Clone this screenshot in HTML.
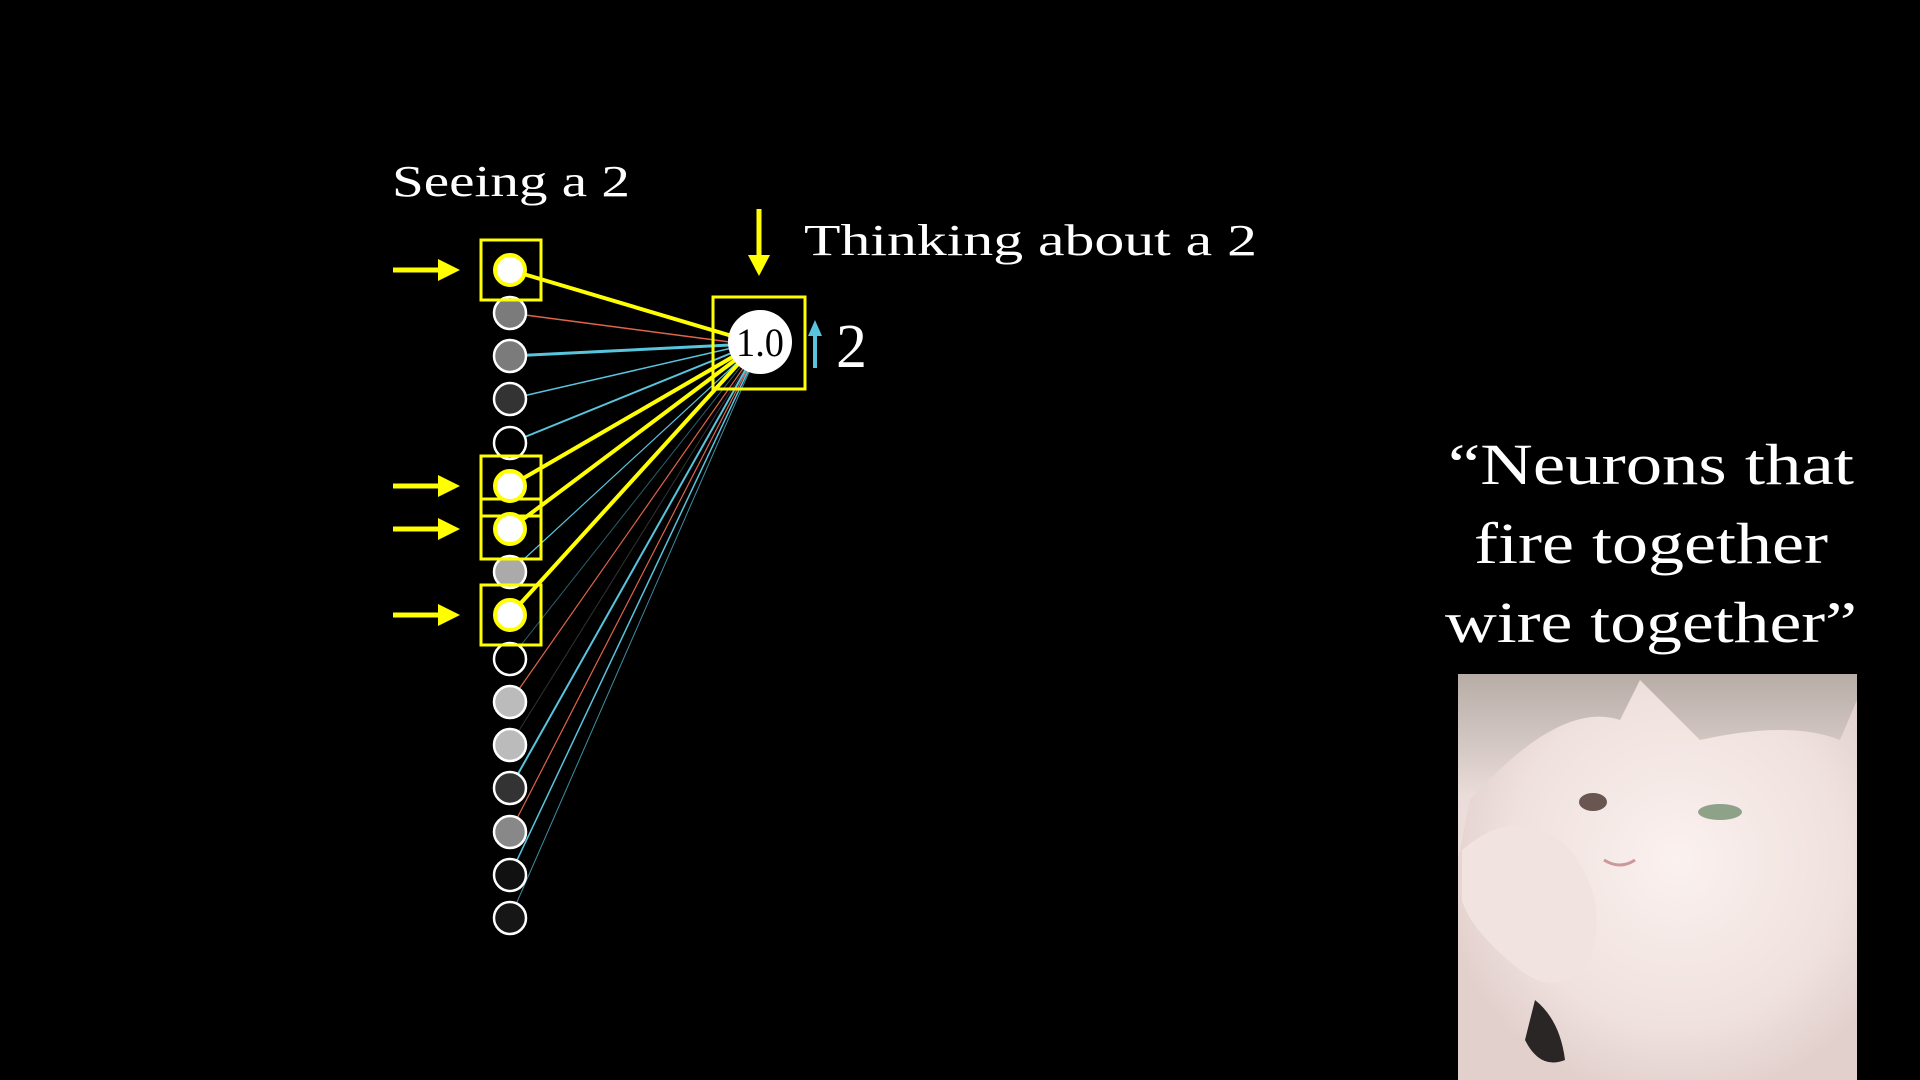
<!DOCTYPE html>
<html><head><meta charset="utf-8"><style>
html,body{margin:0;padding:0;background:#000;width:1920px;height:1080px;overflow:hidden}
svg{display:block}
text{font-family:"Liberation Serif",serif;fill:#fff}
</style></head><body>
<svg width="1920" height="1080" viewBox="0 0 1920 1080" xmlns="http://www.w3.org/2000/svg">
<defs>
<linearGradient id="bg" x1="0" y1="0" x2="0" y2="1"><stop offset="0" stop-color="#b7aca6"/><stop offset="0.3" stop-color="#e9dcd9"/><stop offset="1" stop-color="#f4ecea"/></linearGradient>
<radialGradient id="face" cx="0.55" cy="0.45" r="0.6"><stop offset="0" stop-color="#fbf1ef"/><stop offset="0.7" stop-color="#efe1de"/><stop offset="1" stop-color="#e2d0cc"/></radialGradient>
</defs>
<rect width="1920" height="1080" fill="#000"/>
<text x="392" y="196" font-size="44" textLength="238" lengthAdjust="spacingAndGlyphs">Seeing a 2</text>
<text x="804" y="255" font-size="44" textLength="453" lengthAdjust="spacingAndGlyphs">Thinking about a 2</text>
<g fill="none">
<line x1="510" y1="313" x2="730" y2="342" stroke="#e0644a" stroke-width="1.5"/>
<line x1="510" y1="356" x2="730" y2="345" stroke="#58c4dd" stroke-width="3"/>
<line x1="510" y1="399" x2="732" y2="348" stroke="#58c4dd" stroke-width="1.5"/>
<line x1="510" y1="443" x2="734" y2="352" stroke="#58c4dd" stroke-width="2"/>
<line x1="510" y1="572" x2="740" y2="360" stroke="#58c4dd" stroke-width="1.2"/>
<line x1="510" y1="659" x2="742" y2="365" stroke="#2b5f6b" stroke-width="1"/>
<line x1="510" y1="702" x2="744" y2="367" stroke="#e0644a" stroke-width="1.2"/>
<line x1="510" y1="745" x2="745" y2="368" stroke="#333" stroke-width="1"/>
<line x1="510" y1="788" x2="746" y2="369" stroke="#58c4dd" stroke-width="2"/>
<line x1="510" y1="832" x2="747" y2="370" stroke="#e0644a" stroke-width="1.2"/>
<line x1="510" y1="875" x2="748" y2="371" stroke="#58c4dd" stroke-width="1.5"/>
<line x1="510" y1="918" x2="749" y2="372" stroke="#3d8fa3" stroke-width="1"/>
<g stroke="#ffff00" stroke-width="4">
<line x1="510" y1="270" x2="732" y2="336"/>
<line x1="510" y1="486" x2="736" y2="355"/>
<line x1="510" y1="529" x2="738" y2="358"/>
<line x1="510" y1="615" x2="740" y2="362"/>
</g>
</g>
<g stroke="#fff" stroke-width="2.5">
<circle cx="510" cy="313" r="16" fill="#7b7b7b"/>
<circle cx="510" cy="356" r="16" fill="#7b7b7b"/>
<circle cx="510" cy="399" r="16" fill="#333"/>
<circle cx="510" cy="443" r="16" fill="#000"/>
<circle cx="510" cy="572" r="16" fill="#aaa"/>
<circle cx="510" cy="659" r="16" fill="#000"/>
<circle cx="510" cy="702" r="16" fill="#bbb"/>
<circle cx="510" cy="745" r="16" fill="#bbb"/>
<circle cx="510" cy="788" r="16" fill="#333"/>
<circle cx="510" cy="832" r="16" fill="#888"/>
<circle cx="510" cy="875" r="16" fill="#111"/>
<circle cx="510" cy="918" r="16" fill="#161616"/>
</g>
<g stroke="#ffff00" stroke-width="3" fill="none">
<rect x="481" y="240" width="60" height="60"/>
<rect x="481" y="456" width="60" height="60"/>
<rect x="481" y="499" width="60" height="60"/>
<rect x="481" y="585" width="60" height="60"/>
<rect x="713" y="297" width="92" height="92"/>
</g>
<g stroke="#ffff00" stroke-width="4" fill="#fff">
<circle cx="510" cy="270" r="15"/>
<circle cx="510" cy="486" r="15"/>
<circle cx="510" cy="529" r="15"/>
<circle cx="510" cy="615" r="15"/>
</g>
<g fill="#ffff00" stroke="#ffff00">
<g><line x1="393" y1="270" x2="440" y2="270" stroke-width="5"/><polygon points="438,259 460,270 438,281" stroke="none"/></g>
<g><line x1="393" y1="486" x2="440" y2="486" stroke-width="5"/><polygon points="438,475 460,486 438,497" stroke="none"/></g>
<g><line x1="393" y1="529" x2="440" y2="529" stroke-width="5"/><polygon points="438,518 460,529 438,540" stroke="none"/></g>
<g><line x1="393" y1="615" x2="440" y2="615" stroke-width="5"/><polygon points="438,604 460,615 438,626" stroke="none"/></g>
<g><line x1="759" y1="209" x2="759" y2="258" stroke-width="5"/><polygon points="748,255 770,255 759,276" stroke="none"/></g>
</g>
<circle cx="760" cy="342" r="32" fill="#fff"/>
<text x="760" y="356" font-size="40" text-anchor="middle" textLength="48" lengthAdjust="spacingAndGlyphs" style="fill:#000">1.0</text>
<g stroke="#58c4dd" fill="#58c4dd"><line x1="815" y1="332" x2="815" y2="368" stroke-width="4"/><polygon points="808,336 822,336 815,320" stroke="none"/></g>
<text x="836" y="367" font-size="62">2</text>
<text x="1651" y="484" font-size="58" text-anchor="middle" textLength="406" lengthAdjust="spacingAndGlyphs">“Neurons that</text>
<text x="1651" y="563" font-size="58" text-anchor="middle" textLength="354" lengthAdjust="spacingAndGlyphs">fire together</text>
<text x="1651" y="642" font-size="58" text-anchor="middle" textLength="412" lengthAdjust="spacingAndGlyphs">wire together”</text>
<rect x="1458" y="674" width="399" height="406" fill="url(#bg)"/>
<path d="M1470 800 Q1560 700 1620 720 L1640 680 L1700 740 Q1790 720 1840 740 L1857 700 L1857 1080 L1458 1080 L1458 860 Z" fill="url(#face)"/>
<path d="M1462 850 Q1520 800 1570 850 Q1610 900 1590 960 Q1560 1000 1520 970 Q1470 930 1462 900 Z" fill="#f1e3df"/>
<path d="M1535 1000 Q1560 1020 1565 1060 Q1540 1070 1525 1040 Z" fill="#2a2626"/>
<ellipse cx="1593" cy="802" rx="14" ry="9" fill="#6a5650"/>
<ellipse cx="1720" cy="812" rx="22" ry="8" fill="#8ea28a"/>
<path d="M1604 860 Q1620 870 1635 860" stroke="#c99" stroke-width="3" fill="none"/>
</svg>
</body></html>
